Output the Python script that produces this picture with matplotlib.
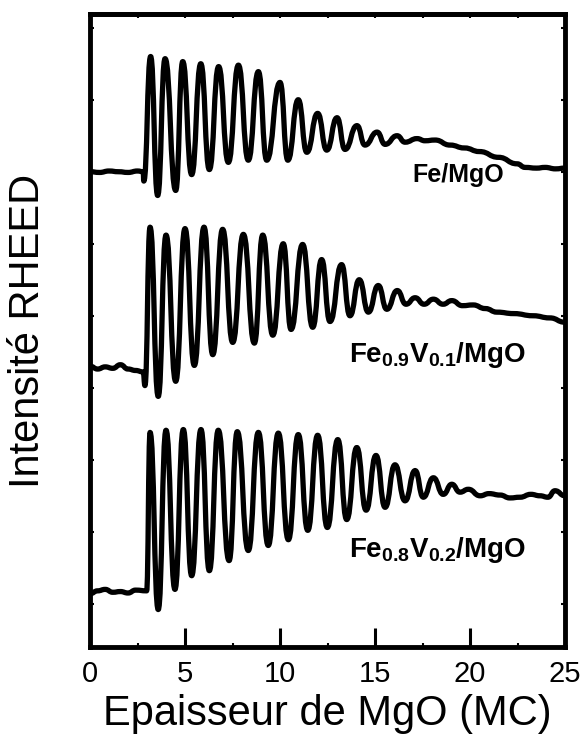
import numpy as np
import matplotlib.pyplot as plt
from matplotlib.ticker import MultipleLocator
from matplotlib.path import Path
from matplotlib.patches import PathPatch

plt.rcParams['font.family'] = ['Liberation Sans', 'DejaVu Sans']
plt.rcParams['mathtext.fontset'] = 'custom'
plt.rcParams['mathtext.bf'] = 'Liberation Sans:bold'
plt.rcParams['mathtext.rm'] = 'Liberation Sans'

# Courbes RHEED (epaisseur en MC, intensite en u.a.)
# points : ligne de base, puis maxima / minima successifs, puis la queue
x_fe = [0, 0.5, 1.0, 1.5, 2.0, 2.5, 2.80, 2.83,
        3.19, 3.56, 3.95, 4.51, 4.88, 5.35, 5.83, 6.28, 6.77, 7.28,
        7.81, 8.33, 8.86, 9.30, 10.0, 10.41, 10.96, 11.41, 11.98, 12.46,
        13.0, 13.42, 14.05, 14.47, 15.11, 15.53, 16.16, 16.58, 17.21, 17.63,
        18.16, 18.95, 19.7, 20.5, 21.5, 22.47, 22.9, 23.5, 23.95, 24.5, 25.0]
y_fe = [6.60, 6.59, 6.61, 6.60, 6.59, 6.61, 6.60, 6.47,
        8.20, 6.27, 8.17, 6.34, 8.13, 6.56, 8.10, 6.63, 8.06, 6.73,
        8.08, 6.76, 7.99, 6.76, 7.84, 6.76, 7.60, 6.87, 7.41, 6.90,
        7.35, 6.91, 7.24, 6.97, 7.15, 6.98, 7.10, 7.01, 7.06, 7.03,
        7.04, 6.97, 6.93, 6.88, 6.80, 6.71, 6.66, 6.65, 6.66, 6.64, 6.65]

x_fev1 = [0, 0.4, 0.8, 1.2, 1.6, 2.0, 2.4, 2.80, 2.89,
          3.16, 3.59, 4.00, 4.51, 5.00, 5.49, 6.00, 6.46, 6.98, 7.51,
          8.07, 8.65, 9.09, 9.62, 10.17, 10.58, 11.19, 11.72, 12.19, 12.63,
          13.24, 13.68, 14.17, 14.65, 15.17, 15.62, 16.17, 16.63, 17.11, 17.58,
          18.07, 18.58, 19.04, 19.6, 20.16, 20.8, 21.42, 22.3, 23.32, 24.2, 25.0]
y_fev1 = [3.90, 3.86, 3.89, 3.87, 3.92, 3.86, 3.84, 3.82, 3.63,
          5.83, 3.48, 5.72, 3.69, 5.81, 3.91, 5.83, 4.06, 5.80, 4.23,
          5.73, 4.22, 5.72, 4.33, 5.60, 4.41, 5.59, 4.44, 5.38, 4.52,
          5.31, 4.60, 5.10, 4.65, 5.02, 4.69, 4.95, 4.76, 4.85, 4.76,
          4.83, 4.76, 4.81, 4.74, 4.75, 4.70, 4.65, 4.63, 4.60, 4.57, 4.51]

x_fev2 = [0, 0.4, 0.8, 1.2, 1.6, 2.0, 2.4, 2.98,
          3.16, 3.59, 4.00, 4.47, 4.91, 5.35, 5.84, 6.28, 6.75, 7.32,
          7.75, 8.33, 8.86, 9.38, 9.91, 10.44, 10.96, 11.46, 11.98, 12.49,
          13.04, 13.51, 14.04, 14.53, 15.05, 15.53, 16.05, 16.58, 17.11, 17.54,
          18.07, 18.59, 19.04, 19.47, 19.91, 20.53, 21.0, 21.58, 22.1, 22.63,
          23.2, 23.68, 24.1, 24.47, 25.0]
y_fev2 = [0.74, 0.78, 0.80, 0.76, 0.77, 0.75, 0.79, 0.78,
          2.98, 0.52, 3.01, 0.80, 3.02, 0.99, 3.02, 1.06, 3.01, 1.20,
          2.99, 1.34, 2.98, 1.41, 2.97, 1.49, 2.95, 1.62, 2.94, 1.66,
          2.88, 1.77, 2.77, 1.90, 2.66, 1.94, 2.53, 2.03, 2.45, 2.08,
          2.35, 2.12, 2.26, 2.15, 2.19, 2.10, 2.13, 2.11, 2.07, 2.08,
          2.12, 2.10, 2.08, 2.17, 2.10]

labels = ['Fe/MgO', r'$\mathbf{Fe_{0.9}V_{0.1}/MgO}$', r'$\mathbf{Fe_{0.8}V_{0.2}/MgO}$']
label_x = [19.4, 18.3, 18.3]
label_y = [6.46, 3.96, 1.25]
label_size = [18, 20, 20]


def courbe_lisse(xs, ys):
    """Chemin de Bezier passant par les points lus, tangente horizontale
    en chaque point (les points sont des extrema)."""
    verts = [(xs[0], ys[0])]
    codes = [Path.MOVETO]
    for i in range(len(xs) - 1):
        dx = xs[i + 1] - xs[i]
        verts += [(xs[i] + dx / 2, ys[i]), (xs[i + 1] - dx / 2, ys[i + 1]),
                  (xs[i + 1], ys[i + 1])]
        codes += [Path.CURVE4] * 3
    return Path(verts, codes)


fig = plt.figure(figsize=(5.83, 7.38), dpi=100)
ax = fig.add_axes([0.1544, 0.1233, 0.8148, 0.8577])

for xs, ys in [(x_fe, y_fe), (x_fev1, y_fev1), (x_fev2, y_fev2)]:
    ax.add_patch(PathPatch(courbe_lisse(xs, ys), fill=False, edgecolor='black',
                           lw=3.8, joinstyle='round', capstyle='round'))

for lab, lx, ly, fs in zip(labels, label_x, label_y, label_size):
    ax.text(lx, ly, lab, ha='center', va='baseline', fontsize=fs,
            fontweight='bold')

ax.set_xlim(0, 25)
ax.set_ylim(0, 8.79)
ax.set_xticks([0, 5, 10, 15, 20, 25])
ax.xaxis.set_minor_locator(MultipleLocator(2.5))
ax.set_yticks([0.6, 1.6, 2.6, 3.6, 4.6, 5.6, 6.6, 7.6, 8.6])
ax.tick_params(axis='x', which='major', direction='in', length=14, width=2.2,
               labelsize=21, pad=9)
ax.tick_params(axis='x', which='minor', direction='in', length=3, width=1.5)
ax.tick_params(axis='y', direction='in', length=3, width=1.5,
               left=True, right=True, labelleft=False)

top = ax.secondary_xaxis('top')
top.set_xticks(np.arange(0, 25.1, 2.5))
top.tick_params(direction='in', length=3, width=1.5, labeltop=False)
top.spines['top'].set_linewidth(3.5)

for s in ax.spines.values():
    s.set_linewidth(3.5)

ax.set_xlabel('Epaisseur de MgO (MC)', fontsize=30, labelpad=5)
ax.set_ylabel('Intensité RHEED', fontsize=30, labelpad=30)

fig.savefig('out.png', dpi=100)
